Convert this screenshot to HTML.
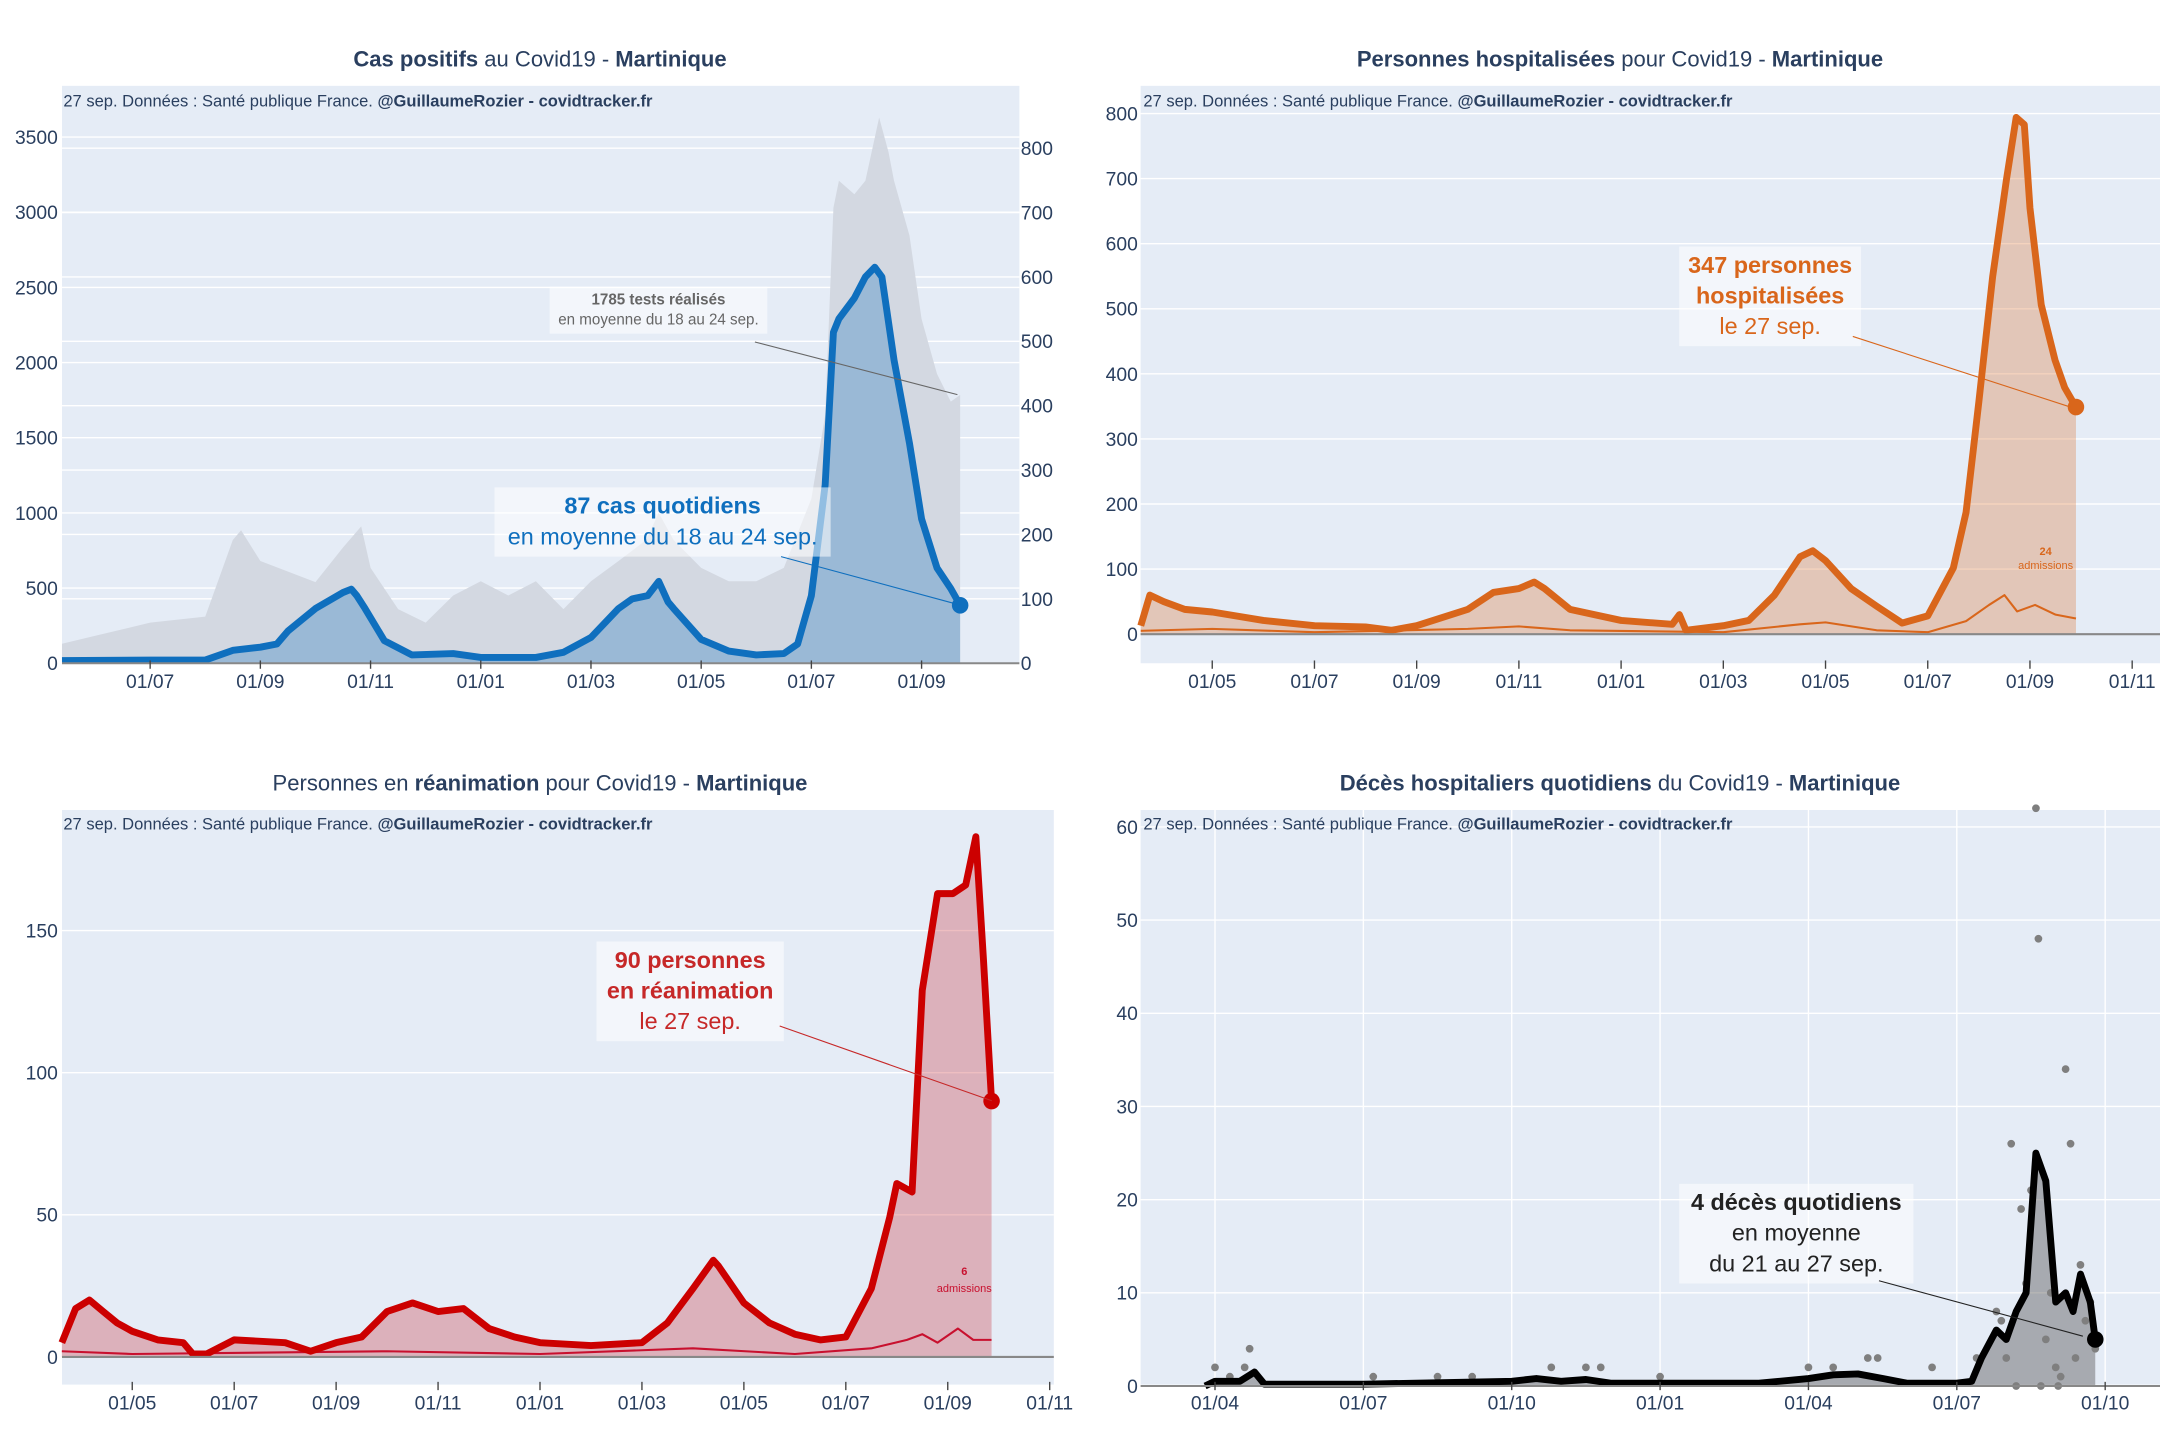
<!DOCTYPE html>
<html><head><meta charset="utf-8"><style>
html,body{margin:0;padding:0;background:#fff;}
svg{display:block;font-family:"Liberation Sans",sans-serif;}
.tk{font-size:14px;fill:#2a3f5f;}
.tt{font-size:16px;fill:#2a3f5f;}
.src{font-size:12px;fill:#2a3f5f;}
</style></head><body>
<svg id="s" width="2160" height="1440" viewBox="0 0 1568 1040" preserveAspectRatio="none"></svg>
<script>
// ---- data (month index floats, values) ----
const casesM=[-1.6,0,1,1.5,2,2.3,2.5,3,3.5,3.65,3.75,3.9,4.25,4.75,5.5,6,7,7.5,8,8.5,8.75,9.03,9.23,9.4,9.5,10,10.5,11,11.5,11.75,12,12.25,12.4,12.5,12.78,12.98,13.15,13.28,13.5,13.78,14,14.28,14.53,14.7];
const casesV=[4,5,5,20,25,30,50,85,110,115,105,85,35,13,15,9,9,17,40,85,100,105,127,95,85,37,19,13,15,30,105,277,514,535,567,600,615,600,471,342,224,148,116,90];
const testsM=[-1.6,0,1,1.5,1.65,2,3,3.5,3.83,4,4.5,5,5.5,6,6.5,7,7.5,8,8.5,9,9.23,9.5,10,10.5,11,11.5,12,12.25,12.4,12.5,12.78,12.98,13.23,13.4,13.5,13.78,14,14.28,14.53,14.7];
const testsV=[130,270,310,820,884,680,540,770,910,635,360,270,450,545,450,545,360,545,680,820,1000,820,635,545,545,635,1095,1650,3030,3210,3120,3210,3630,3400,3210,2845,2290,1925,1740,1785];
const hospM=[-1.4,-1.22,-0.95,-0.54,0,1,2,3,3.51,4,5,5.5,6,6.3,6.5,7,8,9,9.14,9.27,10,10.5,11,11.5,11.75,12,12.5,13,13.5,14,14.5,14.75,15,15.27,15.54,15.73,15.89,16,16.22,16.49,16.68,16.9];
const hospV=[13,60,50,38,34,21,13,11,6,13,38,64,70,80,70,38,21,15,30,6,13,21,60,119,128,113,70,43,17,28,102,187,357,549,698,794,783,655,506,421,379,349];
const hospAdmM=[-1.4,0,2,5,6,7,10,11.5,12,13,14,14.75,15.2,15.5,15.75,16.1,16.5,16.9];
const hospAdmV=[5,8,3,8,12,6,3,15,18,6,3,20,45,60,35,45,30,24];
const reaM=[-1.38,-1.11,-0.84,-0.57,-0.3,0,0.5,1,1.19,1.46,2,3,3.5,4,4.5,5,5.5,6,6.5,7,7.5,8,9,10,10.5,11,11.4,11.5,12,12.5,13,13.5,14,14.5,14.86,15,15.3,15.5,15.8,16.1,16.35,16.55,16.7,16.86];
const reaV=[5,17,20,16,12,9,6,5,1,1,6,5,2,5,7,16,19,16,17,10,7,5,4,5,12,24,34,32,19,12,8,6,7,24,49,61,58,129,163,163,166,183,140,90];
const reaAdmM=[-1.38,0,5,8,11,13,14.5,15.2,15.5,15.8,16.2,16.5,16.86];
const reaAdmV=[2,1,2,1,3,1,3,6,8,5,10,6,6];
const decesM=[-0.2,0,0.5,0.8,1,3,6,6.5,7,7.5,8,11,12,12.5,13,13.5,14,15,15.3,15.5,15.8,16,16.2,16.4,16.6,16.8,17,17.2,17.35,17.5,17.7,17.8];
const decesV=[0,0.5,0.5,1.5,0.2,0.2,0.5,0.8,0.5,0.7,0.3,0.3,0.8,1.2,1.3,0.8,0.3,0.3,0.5,3,6,5,8,10,25,22,9,10,8,12,9,5];
const dotM=[0,0.7,0.6,0.3,3.2,4.5,5.2,6.8,7.5,7.8,9,12,12.5,13.2,13.4,14.5,15.4,15.8,16.1,16.3,16.5,16.6,16.65,16.9,17.2,17.3,17.5,17.7,16.4,16.8,17,17.1,17.4,17.6,17.8,16.2,16.7,17.05,15.9,16.0];
const dotV=[2,4,2,1,1,1,1,2,2,2,1,2,2,3,3,2,3,8,26,19,21,62,48,10,34,26,13,9,11,5,2,1,3,7,4,0,0,0,7,3];
const xt1=["01/07","01/09","01/11","01/01","01/03","01/05","01/07","01/09"];
const xt2=["01/05","01/07","01/09","01/11","01/01","01/03","01/05","01/07","01/09","01/11"];
const xt4=["01/04","01/07","01/10","01/01","01/04","01/07","01/10"];

const S=document.getElementById('s');const NS='http://www.w3.org/2000/svg';
function E(t,a,p){const e=document.createElementNS(NS,t);for(const k in a)e.setAttribute(k,a[k]);(p||S).appendChild(e);return e;}
function T(x,y,txt,cls,anchor,extra){const e=E('text',Object.assign({x:x,y:y,class:cls,'text-anchor':anchor||'start'},extra||{}));e.innerHTML=txt;return e;}
function pts(M,V,fx,fy){return M.map((m,i)=>fx(m).toFixed(1)+','+fy(V[i]).toFixed(1)).join(' ');}

function panel(o){
  const g=E('g',{});
  const bg=E('rect',{x:o.x0,y:o.y0,width:o.x1-o.x0,height:o.y1-o.y0,fill:'#e5ecf6'},g);
  
  return g;
}
function grids(g,ticks,fy,x0,x1){ticks.forEach(v=>{const l=E('line',{x1:x0,x2:x1,y1:fy(v),y2:fy(v),stroke:'#fff','stroke-width':1},g);});}
function ylabels(g,ticks,fy,x,anchor){ticks.forEach(v=>{const t=T(x,fy(v)+5,String(v),'tk',anchor,{});g.appendChild(t);});}
function src(g,x,y){const t=T(x,y,'27 sep. Données : Santé publique France. <tspan font-weight="bold">@GuillaumeRozier - covidtracker.fr</tspan>','src');g.appendChild(t);}
function title(g,x,y,html){const t=T(x,y,html,'tt','middle');g.appendChild(t);}
function xt(g,labels,step,fx,y){labels.forEach((s,i)=>{const t=T(fx(i*step),y,s,'tk','middle');g.appendChild(t);
  E('line',{x1:fx(i*step),x2:fx(i*step),y1:y-20,y2:y-14,stroke:'#444'},g);});}
function line(g,M,V,fx,fy,col,w,name){const p=E('polyline',{points:pts(M,V,fx,fy),fill:'none',stroke:col,'stroke-width':w,'stroke-linejoin':'round'},g);return p;}
function area(g,M,V,fx,fy,col,name){const b=fy(0);const p=E('polygon',{points:fx(M[0]).toFixed(1)+','+b+' '+pts(M,V,fx,fy)+' '+fx(M[M.length-1]).toFixed(1)+','+b,fill:col},g);return p;}
function annot(g,lines,cx,y0,w,h,col,lx1,ly1,lx2,ly2,fs,name){
  const r=E('rect',{x:cx-w/2,y:y0,width:w,height:h,fill:'rgba(255,255,255,0.55)'},g);
  lines.forEach((l,i)=>{const t=T(cx,y0+fs+2+i*fs*1.3,l[0],'', 'middle',{'font-size':fs,fill:col,'font-weight':l[1]?'bold':'normal'});g.appendChild(t);});
  E('line',{x1:lx1,y1:ly1,x2:lx2,y2:ly2,stroke:col,'stroke-width':0.8},g);
}

// ---- Panel 1 ----
(function(){
 const g=panel({name:'cases-chart',x0:45,y0:62,x1:740,y1:479});
 const fx=m=>109+m*40, fyL=v=>479-v*0.10857, fyR=v=>479-v*0.465;
 grids(g,[500,1000,1500,2000,2500,3000,3500],fyL,45,740);
 grids(g,[100,200,300,400,500,600,700,800],fyR,45,740);
 area(g,testsM,testsV,fx,fyL,'#d3d8e1','tests-area');
 area(g,casesM,casesV,fx,fyR,'rgba(40,120,190,0.33)','cases-area');
 line(g,casesM,casesV,fx,fyR,'#0f6fbe',5,'cases-line');
 E('circle',{cx:fx(casesM[casesM.length-1]),cy:fyR(casesV[casesV.length-1]),r:6,fill:'#0f6fbe'},g);
 E('line',{x1:45,x2:740,y1:479,y2:479,stroke:'#888','stroke-width':1.5},g);
 ylabels(g,[0,500,1000,1500,2000,2500,3000,3500],fyL,42,'end');
 ylabels(g,[0,100,200,300,400,500,600,700,800],fyR,741,'start');
 xt(g,xt1,2,fx,497);
 title(g,392,48,'<tspan font-weight="bold">Cas positifs</tspan> au Covid19 - <tspan font-weight="bold">Martinique</tspan>');
 src(g,46,77);
 annot(g,[['1785 tests réalisés',1],['en moyenne du 18 au 24 sep.',0]],478,207,158,34,'#666',548,247,695,285,11,'tests-annotation');
 annot(g,[['87 cas quotidiens',1],['en moyenne du 18 au 24 sep.',0]],481,352,244,50,'#0f6fbe',567,402,697,437,17,'cases-annotation');
})();

// ---- Panel 2 ----
(function(){
 const g=panel({name:'hospital-chart',x0:828,y0:62,x1:1568,y1:479});
 const fx=m=>880+m*37.1, fy=v=>458-v*0.47;
 grids(g,[100,200,300,400,500,600,700,800],fy,828,1568);
 area(g,hospM,hospV,fx,fy,'rgba(217,110,40,0.3)','hospital-area');
 line(g,hospAdmM,hospAdmV,fx,fy,'#d9661b',1.5,'admissions-line');
 line(g,hospM,hospV,fx,fy,'#d9661b',5,'hospital-line');
 E('circle',{cx:fx(16.9),cy:fy(349),r:6,fill:'#d9661b'},g);
 E('line',{x1:828,x2:1568,y1:458,y2:458,stroke:'#888','stroke-width':1.5},g);
 ylabels(g,[0,100,200,300,400,500,600,700,800],fy,826,'end');
 xt(g,xt2,2,fx,497);
 title(g,1176,48,'<tspan font-weight="bold">Personnes hospitalisées</tspan> pour Covid19 - <tspan font-weight="bold">Martinique</tspan>');
 src(g,830,77);
 annot(g,[['347 personnes',1],['hospitalisées',1],['le 27 sep.',0]],1285,178,132,72,'#d9661b',1345,243,1503,294,17,'hospital-annotation');
 const t=T(1485,401,'24','', 'middle',{'font-size':8,fill:'#d9661b','font-weight':'bold'});g.appendChild(t);
 const t2=T(1485,411,'admissions','', 'middle',{'font-size':8,fill:'#d9661b'});g.appendChild(t2);
})();

// ---- Panel 3 ----
(function(){
 const g=panel({name:'icu-chart',x0:45,y0:585,x1:765,y1:1000});
 const fx=m=>96+m*37, fy=v=>980-v*2.053;
 grids(g,[50,100,150],fy,45,765);
 area(g,reaM,reaV,fx,fy,'rgba(200,40,50,0.3)','icu-area');
 line(g,reaAdmM,reaAdmV,fx,fy,'#c8102e',1.5,'icu-admissions-line');
 line(g,reaM,reaV,fx,fy,'#cc0000',5,'icu-line');
 E('circle',{cx:fx(16.86),cy:fy(90),r:6,fill:'#cc0000'},g);
 E('line',{x1:45,x2:765,y1:980,y2:980,stroke:'#888','stroke-width':1.5},g);
 ylabels(g,[0,50,100,150],fy,42,'end');
 xt(g,xt2,2,fx,1018);
 title(g,392,571,'Personnes en <tspan font-weight="bold">réanimation</tspan> pour Covid19 - <tspan font-weight="bold">Martinique</tspan>');
 src(g,46,599);
 annot(g,[['90 personnes',1],['en réanimation',1],['le 27 sep.',0]],501,680,136,72,'#c62828',566,741,720,795,17,'icu-annotation');
 const t=T(700,921,'6','', 'middle',{'font-size':8,fill:'#c8102e','font-weight':'bold'});g.appendChild(t);
 const t2=T(700,933,'admissions','', 'middle',{'font-size':8,fill:'#c8102e'});g.appendChild(t2);
})();

// ---- Panel 4 ----
(function(){
 const g=panel({name:'deaths-chart',x0:828,y0:585,x1:1568,y1:1000});
 const fx=m=>882+m*35.9, fy=v=>1001-v*6.73;
 grids(g,[10,20,30,40,50,60],fy,828,1568);
 [0,3,6,9,12,15,18].forEach(m=>{E('line',{x1:fx(m),x2:fx(m),y1:585,y2:1000,stroke:'#fff'},g);});
 area(g,decesM,decesV,fx,fy,'rgba(90,90,90,0.45)','deaths-area');
 dotM.forEach((m,i)=>{const c=E('circle',{cx:fx(m),cy:fy(dotV[i]),r:2.8,fill:'#7f7f7f'},g);});
 line(g,decesM,decesV,fx,fy,'#000',5,'deaths-line');
 E('circle',{cx:fx(17.8),cy:fy(5),r:6,fill:'#000'},g);
 E('line',{x1:828,x2:1568,y1:1001,y2:1001,stroke:'#888','stroke-width':1.5},g);
 ylabels(g,[0,10,20,30,40,50,60],fy,826,'end');
 xt(g,xt4,3,fx,1018);
 title(g,1176,571,'<tspan font-weight="bold">Décès hospitaliers quotidiens</tspan> du Covid19 - <tspan font-weight="bold">Martinique</tspan>');
 src(g,830,599);
 annot(g,[['4 décès quotidiens',1],['en moyenne',0],['du 21 au 27 sep.',0]],1304,855,170,72,'#222',1364,925,1512,965,17,'deaths-annotation');
})();
</script>
</body></html>
